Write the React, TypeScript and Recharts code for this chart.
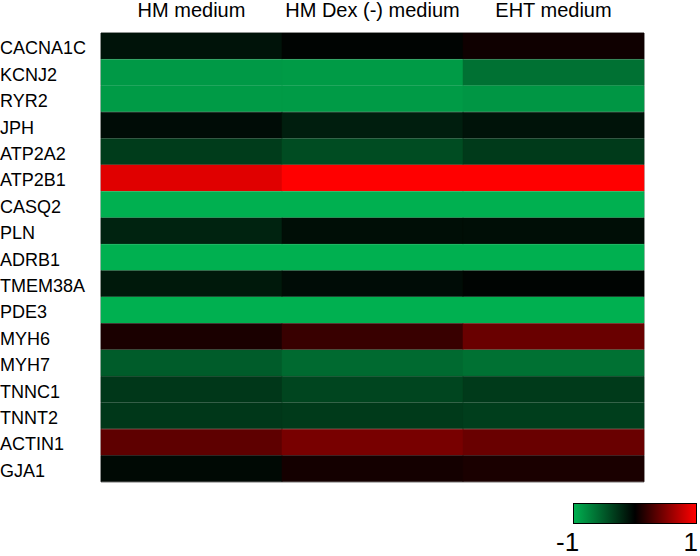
import React from 'react';
import { BarChart, Bar, XAxis, YAxis, Cell, ReferenceArea } from 'recharts';

const genes = [
  'CACNA1C', 'KCNJ2', 'RYR2', 'JPH', 'ATP2A2', 'ATP2B1', 'CASQ2', 'PLN', 'ADRB1',
  'TMEM38A', 'PDE3', 'MYH6', 'MYH7', 'TNNC1', 'TNNT2', 'ACTIN1', 'GJA1',
];
const columns = ['HM medium', 'HM Dex (-) medium', 'EHT medium'];
const hmMedium = [
  -0.11, -0.87, -0.88, -0.07, -0.34, 0.88, -1, -0.2, -1,
  -0.14, -1, 0.1, -0.52, -0.31, -0.31, 0.37, -0.05,
];
const hmDexMedium = [
  -0.02, -0.88, -0.88, -0.17, -0.43, 1, -1, -0.08, -1,
  -0.07, -1, 0.22, -0.6, -0.39, -0.33, 0.47, 0.08,
];
const ehtMedium = [
  0.06, -0.64, -0.85, -0.11, -0.33, 1, -1, -0.08, -1,
  -0.02, -1, 0.41, -0.64, -0.33, -0.35, 0.41, 0.1,
];
const colorbarTicks = ['-1', '1'];

const seriesValues = [hmMedium, hmDexMedium, ehtMedium];
const seriesKeys = ['c0', 'c1', 'c2'];

function colorFor(v: number): string {
  if (v < 0) {
    const t = -v;
    return `rgb(0,${Math.round(176 * t)},${Math.round(80 * t)})`;
  }
  return `rgb(${Math.round(255 * v)},0,0)`;
}

const data = genes.map((g) => ({ gene: g, c0: 1, c1: 1, c2: 1 }));

const FONT = '"Liberation Sans", Arial, sans-serif';

const GeneTick = (props: any) => {
  const { y, payload } = props;
  return (
    <text x={0} y={y} dy="0.45em" textAnchor="start" fontSize={18} fontFamily={FONT} fill="#000">
      {payload.value}
    </text>
  );
};

const ColumnTick = (props: any) => {
  const { x, y, payload } = props;
  return (
    <text x={x} y={y} textAnchor="middle" fontSize={20} fontFamily={FONT} fill="#000">
      {columns[Math.floor(payload.value)]}
    </text>
  );
};

export default function App() {
  return (
    <div style={{ position: 'absolute', left: 0, top: 0, width: 700, height: 556, background: '#fff' }}>
      <BarChart
        width={700}
        height={556}
        data={data}
        layout="vertical"
        barCategoryGap={0}
        barGap={0}
        margin={{ top: 8, right: 56, bottom: 74, left: 0 }}
      >
        <XAxis
          type="number"
          orientation="top"
          domain={[0, 3]}
          ticks={[0.5, 1.5, 2.5]}
          height={25}
          axisLine={false}
          tickLine={false}
          tickSize={0}
          tickMargin={16}
          tick={<ColumnTick />}
          interval={0}
        />
        <YAxis
          type="category"
          dataKey="gene"
          width={101}
          axisLine={false}
          tickLine={false}
          tick={<GeneTick />}
          interval={0}
        />
        {seriesKeys.map((k, ci) => (
          <Bar key={k} dataKey={k} stackId="s" isAnimationActive={false}>
            {genes.map((g, ri) => (
              <Cell key={g} fill={colorFor(seriesValues[ci][ri])} stroke={colorFor(seriesValues[ci][ri])} strokeWidth={0.5} />
            ))}
          </Bar>
        ))}
        <ReferenceArea x1={0} x2={3} fill="none" stroke="#808080" strokeWidth={1} ifOverflow="visible" />
      </BarChart>
      <div style={{ position: 'absolute', left: 573, top: 503, width: 122, height: 19, border: '1px solid #000',
        background: 'linear-gradient(to right, rgb(0,176,80) 0%, rgb(0,0,0) 50%, rgb(255,0,0) 100%)' }} />
      <div style={{ position: 'absolute', left: 556, top: 527, fontFamily: FONT, fontSize: 26, lineHeight: '30px', color: '#000' }}>
        {colorbarTicks[0]}
      </div>
      <div style={{ position: 'absolute', right: 2, top: 527, fontFamily: FONT, fontSize: 26, lineHeight: '30px', color: '#000' }}>
        {colorbarTicks[1]}
      </div>
    </div>
  );
}
